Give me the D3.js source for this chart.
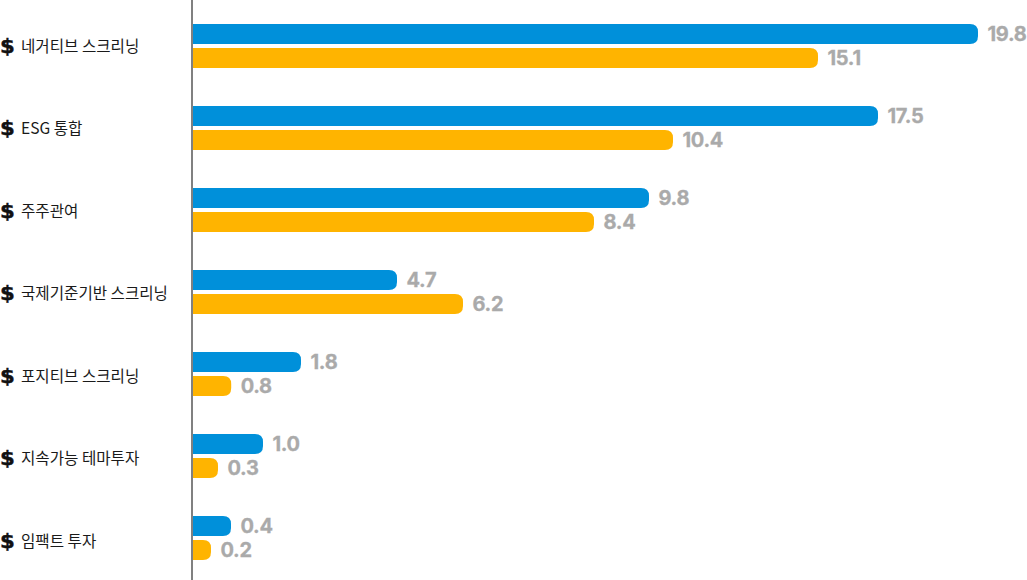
<!DOCTYPE html>
<html><head><meta charset="utf-8">
<script src="https://cdn.jsdelivr.net/npm/d3@7"></script>
<style>html,body{margin:0;padding:0;background:#fff;overflow:hidden}svg{display:block}</style>
</head><body><svg id="c" width="1027" height="580"></svg>
<script>
const categories=["네거티브 스크리닝","ESG 통합","주주관여","국제기준기반 스크리닝","포지티브 스크리닝","지속가능 테마투자","임팩트 투자"];
const seriesA=[19.8,17.5,9.8,4.7,1.8,1.0,0.4];
const seriesB=[15.1,10.4,8.4,6.2,0.8,0.3,0.2];
const scaleStops=[0,0.2,0.3,0.4,0.8,1.0,1.8,4.7,6.2,8.4,9.8,10.4,15.1,17.5,19.8];
const scaleOut=[0,18.5,25.5,38.5,38.7,70.5,108.5,204.5,270.5,401.5,456.5,480.5,625.5,685.5,785.5];
const svg=d3.select("#c");
const x0=192.5;
const x=d3.scaleLinear().domain(scaleStops).range(scaleOut.map(d=>d+x0));
const y=d3.scaleBand().domain(categories).range([5,579]);
const yLabel=d3.scaleBand().domain(categories).range([5,582.5]);
const rounded=(x1,top,h,r)=>`M${x0},${top}H${x1-r}Q${x1},${top} ${x1},${top+r}V${top+h-r}Q${x1},${top+h} ${x1-r},${top+h}H${x0}Z`;
const g=svg.selectAll("g.row").data(categories).join("g").attr("class","row");
const cy=c=>y(c)+y.bandwidth()/2;
const cyL=c=>yLabel(c)+yLabel.bandwidth()/2;
[[seriesA,"#0090da",-12],[seriesB,"#ffb400",12]].forEach(([vals,col,off])=>{
  g.append("path").attr("fill",col).attr("d",(c,i)=>rounded(x(vals[i]),cy(c)+off-10,20,8));
  g.append("text").attr("x",(c,i)=>x(vals[i])+9.5).attr("y",c=>cy(c)+off).attr("dy","0.36em")
   .attr("font-family","Inter, Roboto, sans-serif").attr("font-weight",700).attr("font-size",20)
   .attr("fill","#aaaaaa").attr("stroke","#aaaaaa").attr("stroke-width",0.3).attr("letter-spacing","-0.3").text((c,i)=>vals[i].toFixed(1));
});
g.append("text").attr("x",21).attr("y",cyL).attr("dy","0.36em")
 .attr("font-family","'Noto Sans CJK KR'").attr("font-size",15.6).attr("fill","#1a1a1a").text(c=>c);
g.append("text").attr("text-anchor","middle")
 .attr("transform",c=>`translate(7.5,${cyL(c)+6.5}) scale(1.12,1)`)
 .attr("font-family","'DejaVu Sans'").attr("font-weight",700).attr("font-size",19).attr("fill","#111")
 .attr("stroke","#111").attr("stroke-width",0.4).text("$");
svg.append("line").attr("x1",192).attr("x2",192).attr("y1",0).attr("y2",580).attr("stroke","#808080").attr("stroke-width",2);
</script></body></html>
